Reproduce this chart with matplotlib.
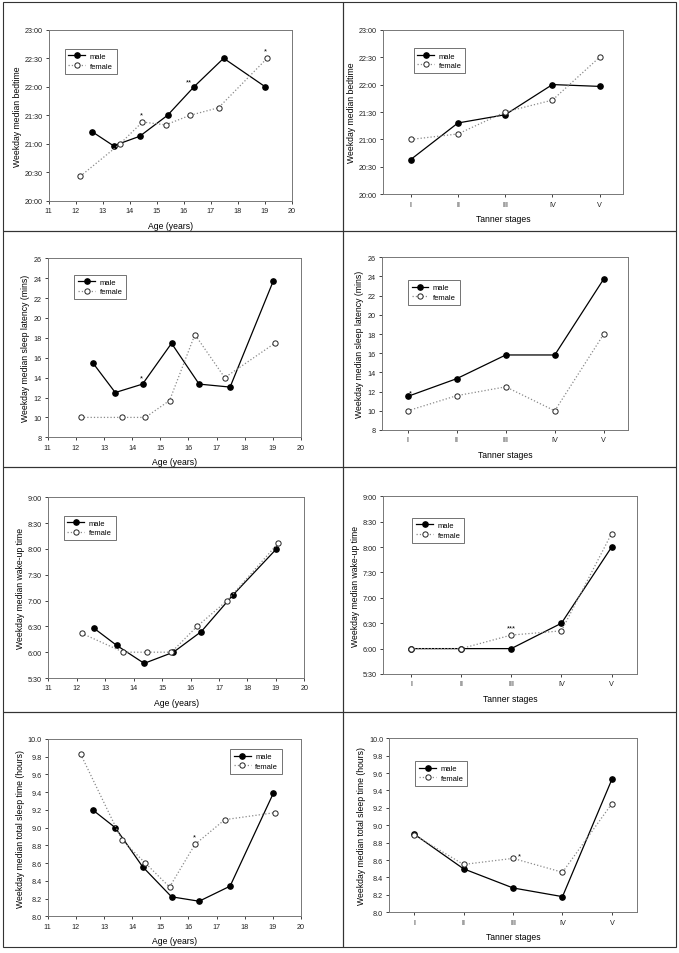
import matplotlib
matplotlib.use('Agg')
import matplotlib.pyplot as plt
from matplotlib.patches import Rectangle

plt.rcParams['font.family'] = ['Liberation Sans', 'DejaVu Sans']

W, H = 679, 954

# ---- data ----------------------------------------------------------------
age_male = [12.6, 13.4, 14.37, 15.4, 16.38, 17.48, 19.02]
age_female = [12.17, 13.64, 14.47, 15.33, 16.23, 17.29, 19.09]
tanner = ['I', 'II', 'III', 'IV', 'V']

bed_age_male = ['21:13', '20:58', '21:08', '21:30', '22:00', '22:30', '22:00']
bed_age_female = ['20:26', '21:00', '21:23', '21:20', '21:30', '21:38', '22:30']
bed_tan_male = ['20:38', '21:18', '21:27', '22:00', '21:58']
bed_tan_female = ['21:00', '21:06', '21:30', '21:43', '22:30']

lat_age_male = [15.5, 12.5, 13.35, 17.45, 13.35, 13.05, 23.75]
lat_age_female = [10.0, 10.0, 10.0, 11.7, 18.33, 14.0, 17.5]
lat_tan_male = [11.5, 13.35, 15.82, 15.82, 23.75]
lat_tan_female = [10.0, 11.58, 12.5, 10.0, 18.0]

wake_age_male = ['6:28', '6:08', '5:47', '6:00', '6:24', '7:06', '8:00']
wake_age_female = ['6:22', '6:00', '6:00', '6:00', '6:30', '7:00', '8:07']
wake_tan_male = ['6:00', '6:00', '6:00', '6:30', '8:00']
wake_tan_female = ['6:00', '6:00', '6:16', '6:21', '8:16']

tst_age_male = [9.2, 9.0, 8.56, 8.22, 8.17, 8.34, 9.39]
tst_age_female = [9.83, 8.86, 8.6, 8.33, 8.81, 9.09, 9.17]
tst_tan_male = [8.9, 8.5, 8.28, 8.18, 9.53]
tst_tan_female = [8.89, 8.55, 8.62, 8.46, 9.25]

bed_ticks = ['20:00', '20:30', '21:00', '21:30', '22:00', '22:30', '23:00']
wake_ticks = ['5:30', '6:00', '6:30', '7:00', '7:30', '8:00', '8:30', '9:00']
lat_ticks = [8, 10, 12, 14, 16, 18, 20, 22, 24, 26]
tst_ticks = [8.0, 8.2, 8.4, 8.6, 8.8, 9.0, 9.2, 9.4, 9.6, 9.8, 10.0]
age_ticks = list(range(11, 21))


def hours(t):
    h, m = t.split(':')
    return int(h) + int(m) / 60.0


def axes_at(fig, left, right, top, bottom):
    return fig.add_axes([left / W, 1 - bottom / H, (right - left) / W, (bottom - top) / H])


def draw(ax, x, male, female, ylabel, xlabel, yticks, ylabels, legend_loc):
    ax.plot(x[0], male, color='black', lw=0.9, marker='o', ms=3.8,
            mfc='black', mec='black', label='male', zorder=3)
    ax.plot(x[1], female, color='#8a8a8a', lw=0.9, ls=':', marker='o', ms=3.8,
            mfc='white', mec='#222222', mew=0.7, label='female', zorder=3)
    ax.set_yticks(yticks)
    ax.set_yticklabels(ylabels)
    ax.set_ylim(yticks[0], yticks[-1])
    ax.set_ylabel(ylabel, fontsize=6.2, labelpad=2)
    ax.set_xlabel(xlabel, fontsize=6.2, labelpad=5)
    ax.tick_params(labelsize=5.2, length=2.5, width=0.6, pad=2, colors='#222222')
    for s in ax.spines.values():
        s.set_color('#777777')
        s.set_linewidth(0.7)
    leg = ax.legend(loc=legend_loc[0], bbox_to_anchor=legend_loc[1], fontsize=5.5,
                    frameon=True, fancybox=False, edgecolor='#333333',
                    handlelength=2.2, borderpad=0.5, labelspacing=0.3,
                    handletextpad=0.6)
    leg.get_frame().set_linewidth(0.6)


fig = plt.figure(figsize=(W / 100, H / 100), dpi=100)

# cell borders
rows = [3, 232, 468, 713, 948]
for i in range(4):
    for x0, x1 in [(3, 343), (343, 676)]:
        fig.patches.append(Rectangle((x0 / W, 1 - rows[i + 1] / H), (x1 - x0) / W,
                                     (rows[i + 1] - rows[i]) / H, transform=fig.transFigure,
                                     fill=False, edgecolor='#333333', lw=0.8))

ages = (age_male, age_female)
tx = (range(1, 6), range(1, 6))
ul = ('upper left', (0.05, 0.91))

# row 1: bedtime
ax = axes_at(fig, 48.7, 291.7, 30.7, 202)
draw(ax, ages, [hours(t) for t in bed_age_male], [hours(t) for t in bed_age_female],
     'Weekday median bedtime', 'Age (years)', [hours(t) for t in bed_ticks], bed_ticks, ul)
ax.set_xlim(11, 20)
ax.set_xticks(age_ticks)
for xx, yy, s in [(14.45, hours('21:30'), '*'), (16.2, hours('22:05'), '**'), (19.04, hours('22:38'), '*')]:
    ax.text(xx, yy, s, fontsize=5.5, ha='center', va='center')

ax = axes_at(fig, 383.3, 623.3, 30.7, 195.3)
draw(ax, tx, [hours(t) for t in bed_tan_male], [hours(t) for t in bed_tan_female],
     'Weekday median bedtime', 'Tanner stages', [hours(t) for t in bed_ticks], bed_ticks,
     ('upper left', (0.11, 0.91)))
ax.set_xlim(0.42, 5.5)
ax.set_xticks(range(1, 6))
ax.set_xticklabels(tanner)

# row 2: sleep latency
ax = axes_at(fig, 47.7, 301, 259.3, 438.3)
draw(ax, ages, lat_age_male, lat_age_female, 'Weekday median sleep latency (mins)',
     'Age (years)', lat_ticks, [str(t) for t in lat_ticks], ('upper left', (0.09, 0.93)))
ax.set_xlim(11, 20)
ax.set_xticks(age_ticks)
ax.text(14.33, 13.95, '*', fontsize=5.5, ha='center', va='center')

ax = axes_at(fig, 381.7, 628.3, 258.3, 431)
draw(ax, tx, lat_tan_male, lat_tan_female, 'Weekday median sleep latency (mins)',
     'Tanner stages', lat_ticks, [str(t) for t in lat_ticks], ('upper left', (0.09, 0.89)))
ax.set_xlim(0.47, 5.5)
ax.set_xticks(range(1, 6))
ax.set_xticklabels(tanner)
ax.text(1.05, 11.85, '*', fontsize=5.5, ha='center', va='center')

# row 3: wake-up time
ax = axes_at(fig, 48.3, 304.3, 498.3, 679)
draw(ax, ages, [hours(t) for t in wake_age_male], [hours(t) for t in wake_age_female],
     'Weekday median wake-up time', 'Age (years)', [hours(t) for t in wake_ticks], wake_ticks,
     ('upper left', (0.045, 0.92)))
ax.set_xlim(11, 20)
ax.set_xticks(age_ticks)

ax = axes_at(fig, 383.3, 636.7, 497.3, 675)
draw(ax, tx, [hours(t) for t in wake_tan_male], [hours(t) for t in wake_tan_female],
     'Weekday median wake-up time', 'Tanner stages', [hours(t) for t in wake_ticks], wake_ticks,
     ('upper left', (0.1, 0.9)))
ax.set_xlim(0.45, 5.5)
ax.set_xticks(range(1, 6))
ax.set_xticklabels(tanner)
ax.text(3, hours('6:25'), '***', fontsize=5.5, ha='center', va='center')

# row 4: total sleep time
ax = axes_at(fig, 47.7, 301, 740, 917.3)
draw(ax, ages, tst_age_male, tst_age_female, 'Weekday median total sleep time (hours)',
     'Age (years)', tst_ticks, ['%.1f' % t for t in tst_ticks], ('upper right', (0.94, 0.965)))
ax.set_xlim(11, 20)
ax.set_xticks(age_ticks)
ax.text(16.2, 8.9, '*', fontsize=5.5, ha='center', va='center')

ax = axes_at(fig, 389.3, 636.7, 739.3, 913.3)
draw(ax, tx, tst_tan_male, tst_tan_female, 'Weekday median total sleep time (hours)',
     'Tanner stages', tst_ticks, ['%.1f' % t for t in tst_ticks], ('upper left', (0.09, 0.89)))
ax.set_xlim(0.5, 5.5)
ax.set_xticks(range(1, 6))
ax.set_xticklabels(tanner)
ax.text(3.12, 8.65, '*', fontsize=5.5, ha='center', va='center')

fig.savefig('out.png', dpi=100)
